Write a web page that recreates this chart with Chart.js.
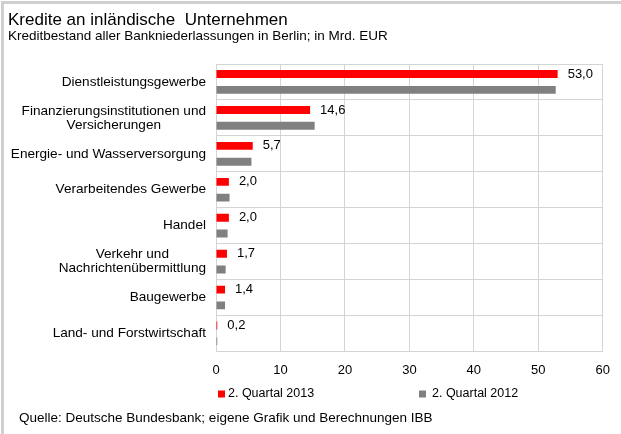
<!DOCTYPE html>
<html>
<head>
<meta charset="utf-8">
<script src="https://cdn.jsdelivr.net/npm/chart.js@4/dist/chart.umd.min.js"></script>
<style>
  html, body { margin: 0; padding: 0; background: #fff; }
  #wrap { position: relative; width: 621px; height: 434px; }
  canvas { display: block; }
</style>
</head>
<body>
<div id="wrap"><canvas id="c" width="621" height="434"></canvas></div>
<script>
// Kredite an inländische Unternehmen, Berlin (Mrd. EUR)
const categories = [
  ['Dienstleistungsgewerbe'],
  ['Finanzierungsinstitutionen und', 'Versicherungen'],
  ['Energie- und Wasserversorgung'],
  ['Verarbeitendes Gewerbe'],
  ['Handel'],
  ['Verkehr und', 'Nachrichtenübermittlung'],
  ['Baugewerbe'],
  ['Land- und Forstwirtschaft']
];
const q2_2013 = [53.0, 14.6, 5.7, 2.0, 2.0, 1.7, 1.4, 0.2];
const q2_2012 = [52.7, 15.3, 5.5, 2.1, 1.8, 1.5, 1.4, 0.2];
const xTicks = [0, 10, 20, 30, 40, 50, 60];

const FONT = '"Liberation Sans", Arial, sans-serif';
const RED = '#ff0000';
const GREY = '#808080';
const GRID = '#d4d4d4';

// Frame, title, category labels, value labels, legend and source line
const decorations = {
  id: 'decorations',
  afterDraw(chart) {
    const ctx = chart.ctx;
    const area = chart.chartArea;
    const yScale = chart.scales.y;
    ctx.save();

    // outer frame (top and left)
    ctx.fillStyle = '#d0d0d0';
    ctx.fillRect(1, 1, 620, 3);
    ctx.fillRect(1, 1, 3, 433);

    // title + subtitle
    ctx.fillStyle = '#000';
    ctx.textAlign = 'left';
    ctx.textBaseline = 'alphabetic';
    ctx.font = '17px ' + FONT;
    ctx.fillText('Kredite an inländische  Unternehmen', 8, 25);
    ctx.font = '13.5px ' + FONT;
    ctx.fillText('Kreditbestand aller Bankniederlassungen in Berlin; in Mrd. EUR', 8, 40);

    // category labels: block right-aligned to the axis, lines centred within it
    ctx.font = '13.6px ' + FONT;
    ctx.textBaseline = 'middle';
    ctx.textAlign = 'center';
    const right = area.left - 10;
    const lineH = 14;
    categories.forEach((lines, i) => {
      const yc = yScale.getPixelForValue(i);
      const w = Math.max(...lines.map(l => ctx.measureText(l).width));
      const cx = right - w / 2;
      const y0 = yc - (lines.length - 1) * lineH / 2;
      lines.forEach((l, k) => ctx.fillText(l, cx, y0 + k * lineH));
    });

    // value labels next to the 2013 bars
    ctx.textAlign = 'left';
    ctx.font = '13px ' + FONT;
    const meta = chart.getDatasetMeta(0);
    meta.data.forEach((bar, i) => {
      const txt = q2_2013[i].toFixed(1).replace('.', ',');
      ctx.fillText(txt, bar.x + 10, bar.y);
    });

    // legend
    ctx.font = '12.5px ' + FONT;
    const ly = 394;
    ctx.fillStyle = RED;
    ctx.fillRect(218, ly - 3.5, 7, 7);
    ctx.fillStyle = '#000';
    ctx.fillText('2. Quartal 2013', 228, ly);
    ctx.fillStyle = GREY;
    ctx.fillRect(419, ly - 3.5, 7, 7);
    ctx.fillStyle = '#000';
    ctx.fillText('2. Quartal 2012', 432, ly);

    // source
    ctx.font = '13.5px ' + FONT;
    ctx.fillText('Quelle: Deutsche Bundesbank; eigene Grafik und Berechnungen IBB', 19, 418);
    ctx.restore();
  }
};

new Chart(document.getElementById('c'), {
  type: 'bar',
  data: {
    labels: categories.map(l => l.join(' ')),
    datasets: [
      { label: '2. Quartal 2013', data: q2_2013, backgroundColor: RED,
        categoryPercentage: 0.88, barPercentage: 0.5 },
      { label: '2. Quartal 2012', data: q2_2012, backgroundColor: GREY,
        categoryPercentage: 0.88, barPercentage: 0.5 }
    ]
  },
  options: {
    indexAxis: 'y',
    responsive: false,
    animation: false,
    events: [],
    layout: { padding: { left: 216, top: 64, right: 16, bottom: 45 } },
    plugins: {
      legend: { display: false },
      title: { display: false },
      tooltip: { enabled: false }
    },
    scales: {
      x: {
        min: xTicks[0],
        max: xTicks[xTicks.length - 1],
        afterBuildTicks(scale) { scale.ticks = xTicks.map(v => ({ value: v })); },
        grid: { color: GRID, lineWidth: 1, drawTicks: false },
        border: { color: GRID },
        ticks: { color: '#000', padding: 11, font: { family: FONT, size: 13 } }
      },
      y: {
        grid: { color: GRID, lineWidth: 1, drawTicks: false, offset: true },
        border: { color: GRID },
        ticks: { display: false }
      }
    }
  },
  plugins: [decorations]
});
</script>
</body>
</html>
